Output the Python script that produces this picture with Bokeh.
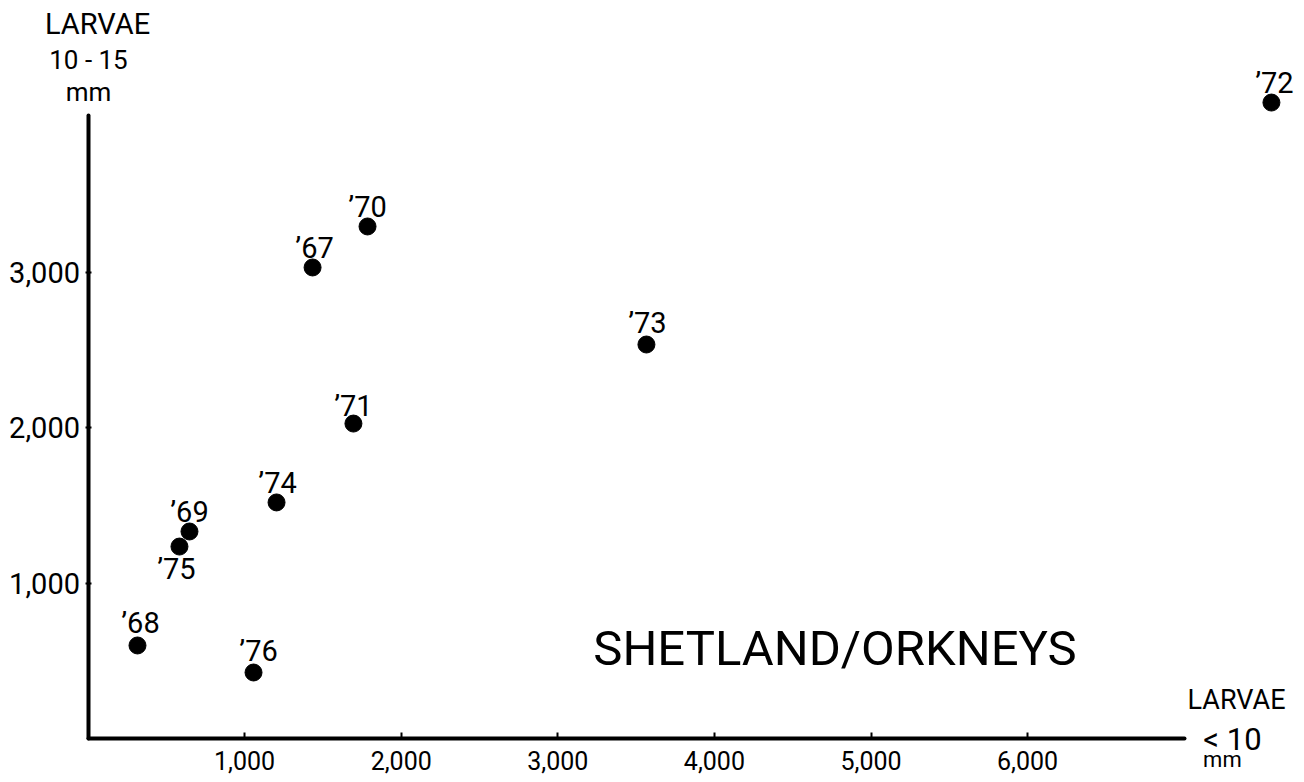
from bokeh.plotting import figure
from bokeh.models import ColumnDataSource, FixedTicker, NumeralTickFormatter, Label, Range1d
from bokeh.core.properties import value
from bokeh.embed import file_html
from bokeh.resources import INLINE

# Data (larvae counts)
years = ["’67", "’68", "’69", "’70", "’71", "’72", "’73", "’74", "’75", "’76"]
larvae_lt10 = [1434, 316, 648, 1785, 1695, 7557, 3566, 1204, 584, 1057]
larvae_10_15 = [3033, 599, 1333, 3297, 2028, 4095, 2537, 1520, 1236, 425]
label_dx = [2, 3, 0, 0, 0, 3, 1, 1, -3, 5]
label_dy = [-19, -22, -19, -19, -18, -20, -22, -19, 22, -21]
x_ticks = [1000, 2000, 3000, 4000, 5000, 6000]
y_ticks = [1000, 2000, 3000]

FONT = "Roboto"

# pixel geometry: canvas x = 87.5 + 0.1566 * value ; canvas y = 738 - 0.1553 * value
SX, SY = 0.1566, 0.1553
W, H = 1296, 774

src = ColumnDataSource(dict(x=larvae_lt10, y=larvae_10_15, t=years, dx=label_dx, dy=label_dy))

p = figure(width=W, height=H,
           x_range=Range1d((0 - 87.5) / SX, (W - 87.5) / SX),
           y_range=Range1d((738 - H) / SY, 738 / SY),
           output_backend="svg", toolbar_location=None,
           min_border=0,
           background_fill_color="white", border_fill_color="white")
p.outline_line_color = None
p.grid.visible = False

for ax in (p.xaxis, p.yaxis):
    ax.fixed_location = 0
    ax.axis_line_width = 4
    ax.axis_line_color = "black"
    ax.axis_line_cap = "round"
    ax.major_tick_line_width = 2
    ax.major_tick_line_color = "black"
    ax.minor_tick_line_color = None
    ax.major_label_text_font = FONT
    ax.major_label_text_color = "black"
    ax.formatter = NumeralTickFormatter(format="0,0")

p.xaxis.ticker = FixedTicker(ticks=x_ticks)
p.yaxis.ticker = FixedTicker(ticks=y_ticks)
p.xaxis.bounds = (0, 7000)
p.yaxis.bounds = (0, 4010)
p.xaxis.major_tick_in = 6
p.xaxis.major_tick_out = 0
p.xaxis.major_label_standoff = 12
p.xaxis.major_label_text_font_size = "25px"
p.yaxis.major_tick_in = 3
p.yaxis.major_tick_out = 3
p.yaxis.major_label_standoff = 5
p.yaxis.major_label_text_font_size = "29px"

p.scatter("x", "y", source=src, size=17, marker="circle", color="black")
p.text("x", "y", text="t", source=src, x_offset="dx", y_offset="dy",
       text_align="center", text_baseline="middle",
       text_font=value(FONT), text_font_size="29px", text_color="black")

def lab(x, y, txt, size, align="center", baseline="middle"):
    p.add_layout(Label(x=x, y=y, text=txt, text_font=FONT, text_font_size=size,
                       text_align=align, text_baseline=baseline, text_color="black"))

# y-axis title (top left)
lab(61, 4598, "LARVAE", "29px")
lab(3, 4372, "10 - 15", "26px")
lab(3, 4160, "mm", "26px")
# x-axis title (bottom right)
lab(7334, 245, "LARVAE", "27px")
lab(7308, -6, "< 10", "31px")
lab(7244, -135, "mm", "22px")
# panel title
lab(4770, 580, "SHETLAND/ORKNEYS", "49px")

open("out.html", "w").write(file_html(p, INLINE))
